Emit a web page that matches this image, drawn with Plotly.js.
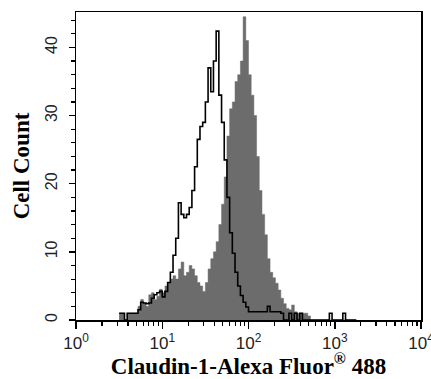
<!DOCTYPE html>
<html>
<head>
<meta charset="utf-8">
<script src="https://cdn.plot.ly/plotly-3.0.1.min.js"></script>
<style>html,body{margin:0;padding:0;background:#fff;}#chart{width:431px;height:379px;}</style>
</head>
<body>
<div id="chart"></div>
<script>
// Histogram bins: log10 fluorescence, first bin starts at 10^0.5, each bin 1/32 decade wide
const binStartDecade = 0.5;
const binWidthDecade = 1 / 32;

// Claudin-1 stained cells (grey filled histogram), counts per bin
const stainedCounts = [
  1, 1, 0, 1, 1, 1, 1, 2, 3, 2.5,
  2, 3.7, 4, 3, 3.5, 4.5, 4, 5, 5.5, 6,
  6.5, 6, 7.5, 8.5, 6.5, 7, 8, 7.5, 6.5, 5.5,
  5, 4.2, 5.5, 7.5, 9, 10, 11.5, 14, 17, 21,
  27, 31, 32, 35, 36, 38, 44.5, 41, 36, 33,
  30, 24, 19, 15.5, 12.5, 9, 7, 6.2, 5.4, 4.4,
  3.2, 2.4, 1.7, 1.5, 2.2, 1.2, 1, 1, 1, 1,
  0.6, 0, 0, 0, 0, 0, 0, 0, 0, 0,
  0, 0, 0, 0, 0, 0, 0, 0
];

// Isotype control (black outline histogram), counts per bin
const controlCounts = [
  1, 1, 0, 1, 1, 1, 1, 1.5, 2.6, 2.5,
  2.4, 2.5, 3.2, 3.7, 4, 4.2, 3.4, 4.2, 5.5, 7,
  9.5, 12, 17.2, 15.5, 15, 15.5, 16.5, 19, 22.5, 26.5,
  28.4, 29, 32, 37, 33.5, 38, 42.4, 33, 29, 23.5,
  18, 12.8, 9.8, 7, 5, 3.6, 2.6, 1.9, 1.2, 1.2,
  1.2, 1.2, 1.2, 1.2, 1.2, 2, 1.2, 1.2, 1.2, 1.2,
  1, 0, 0, 1, 0, 1, 0, 1, 0, 0,
  0, 0, 0, 0, 0, 0, 0, 0, 1, 0,
  0, 0, 0, 1, 0, 0, 0, 0
];

const xTickVals = [1, 10, 100, 1000, 10000];
const xTickText = ['10<sup>0</sup>', '10<sup>1</sup>', '10<sup>2</sup>', '10<sup>3</sup>', '10<sup>4</sup>'];
const xMinorVals = [2,3,4,5,6,7,8,9,20,30,40,50,60,70,80,90,200,300,400,500,600,700,800,900,2000,3000,4000,5000,6000,7000,8000,9000];
const yTickVals = [0, 10, 20, 30, 40];

function stepTrace(counts) {
  const xs = [], ys = [];
  for (let i = 0; i < counts.length; i++) {
    xs.push(Math.pow(10, binStartDecade + i * binWidthDecade));
    ys.push(counts[i]);
  }
  xs.push(Math.pow(10, binStartDecade + counts.length * binWidthDecade));
  ys.push(counts[counts.length - 1]);
  return {xs, ys};
}

const g = stepTrace(stainedCounts);
const c = stepTrace(controlCounts);

const traces = [
  {
    x: g.xs, y: g.ys, type: 'scatter', mode: 'lines',
    line: {shape: 'hv', color: '#6c6c6c', width: 0.5},
    fill: 'tozeroy', fillcolor: '#6c6c6c',
    hoverinfo: 'skip', showlegend: false
  },
  {
    x: c.xs, y: c.ys, type: 'scatter', mode: 'lines',
    line: {shape: 'hv', color: '#000000', width: 1.6},
    hoverinfo: 'skip', showlegend: false
  }
];

const layout = {
  width: 431, height: 379,
  margin: {l: 76, r: 10, t: 12, b: 59},
  paper_bgcolor: '#ffffff', plot_bgcolor: '#ffffff',
  showlegend: false,
  xaxis: {
    type: 'log', range: [0, 4],
    tickvals: xTickVals, ticktext: xTickText,
    ticks: 'outside', ticklen: 7, tickwidth: 1.5, tickcolor: '#000',
    minor: {tickvals: xMinorVals, ticks: 'outside', ticklen: 4, tickwidth: 1.2, tickcolor: '#000'},
    showline: true, linecolor: '#000', linewidth: 1.5, mirror: true,
    showgrid: false, zeroline: false,
    ticklabeloverflow: 'allow',
    tickfont: {family: 'Liberation Sans, Arial, sans-serif', size: 17, color: '#222'},
    ticklabelstandoff: 0,
    title: {text: 'Claudin-1-Alexa Fluor<sup>®</sup> 488', standoff: 4,
      font: {family: 'Liberation Serif, Times New Roman, serif', size: 23, color: '#000', weight: 'bold'}}
  },
  yaxis: {
    range: [0, 45.2],
    tickvals: yTickVals,
    ticks: 'outside', ticklen: 6, tickwidth: 1.5, tickcolor: '#000',
    minor: {dtick: 2, ticks: 'outside', ticklen: 4, tickwidth: 1.2, tickcolor: '#000'},
    tickangle: -90,
    showline: true, linecolor: '#000', linewidth: 1.5, mirror: true,
    showgrid: false, zeroline: false,
    ticklabeloverflow: 'allow',
    tickfont: {family: 'Liberation Sans, Arial, sans-serif', size: 16, color: '#222'},
    ticklabelstandoff: 5,
    title: {text: 'Cell Count', standoff: 7,
      font: {family: 'Liberation Serif, Times New Roman, serif', size: 23, color: '#000', weight: 'bold'}}
  }
};

Plotly.newPlot('chart', traces, layout, {staticPlot: true, displayModeBar: false});
</script>
</body>
</html>
